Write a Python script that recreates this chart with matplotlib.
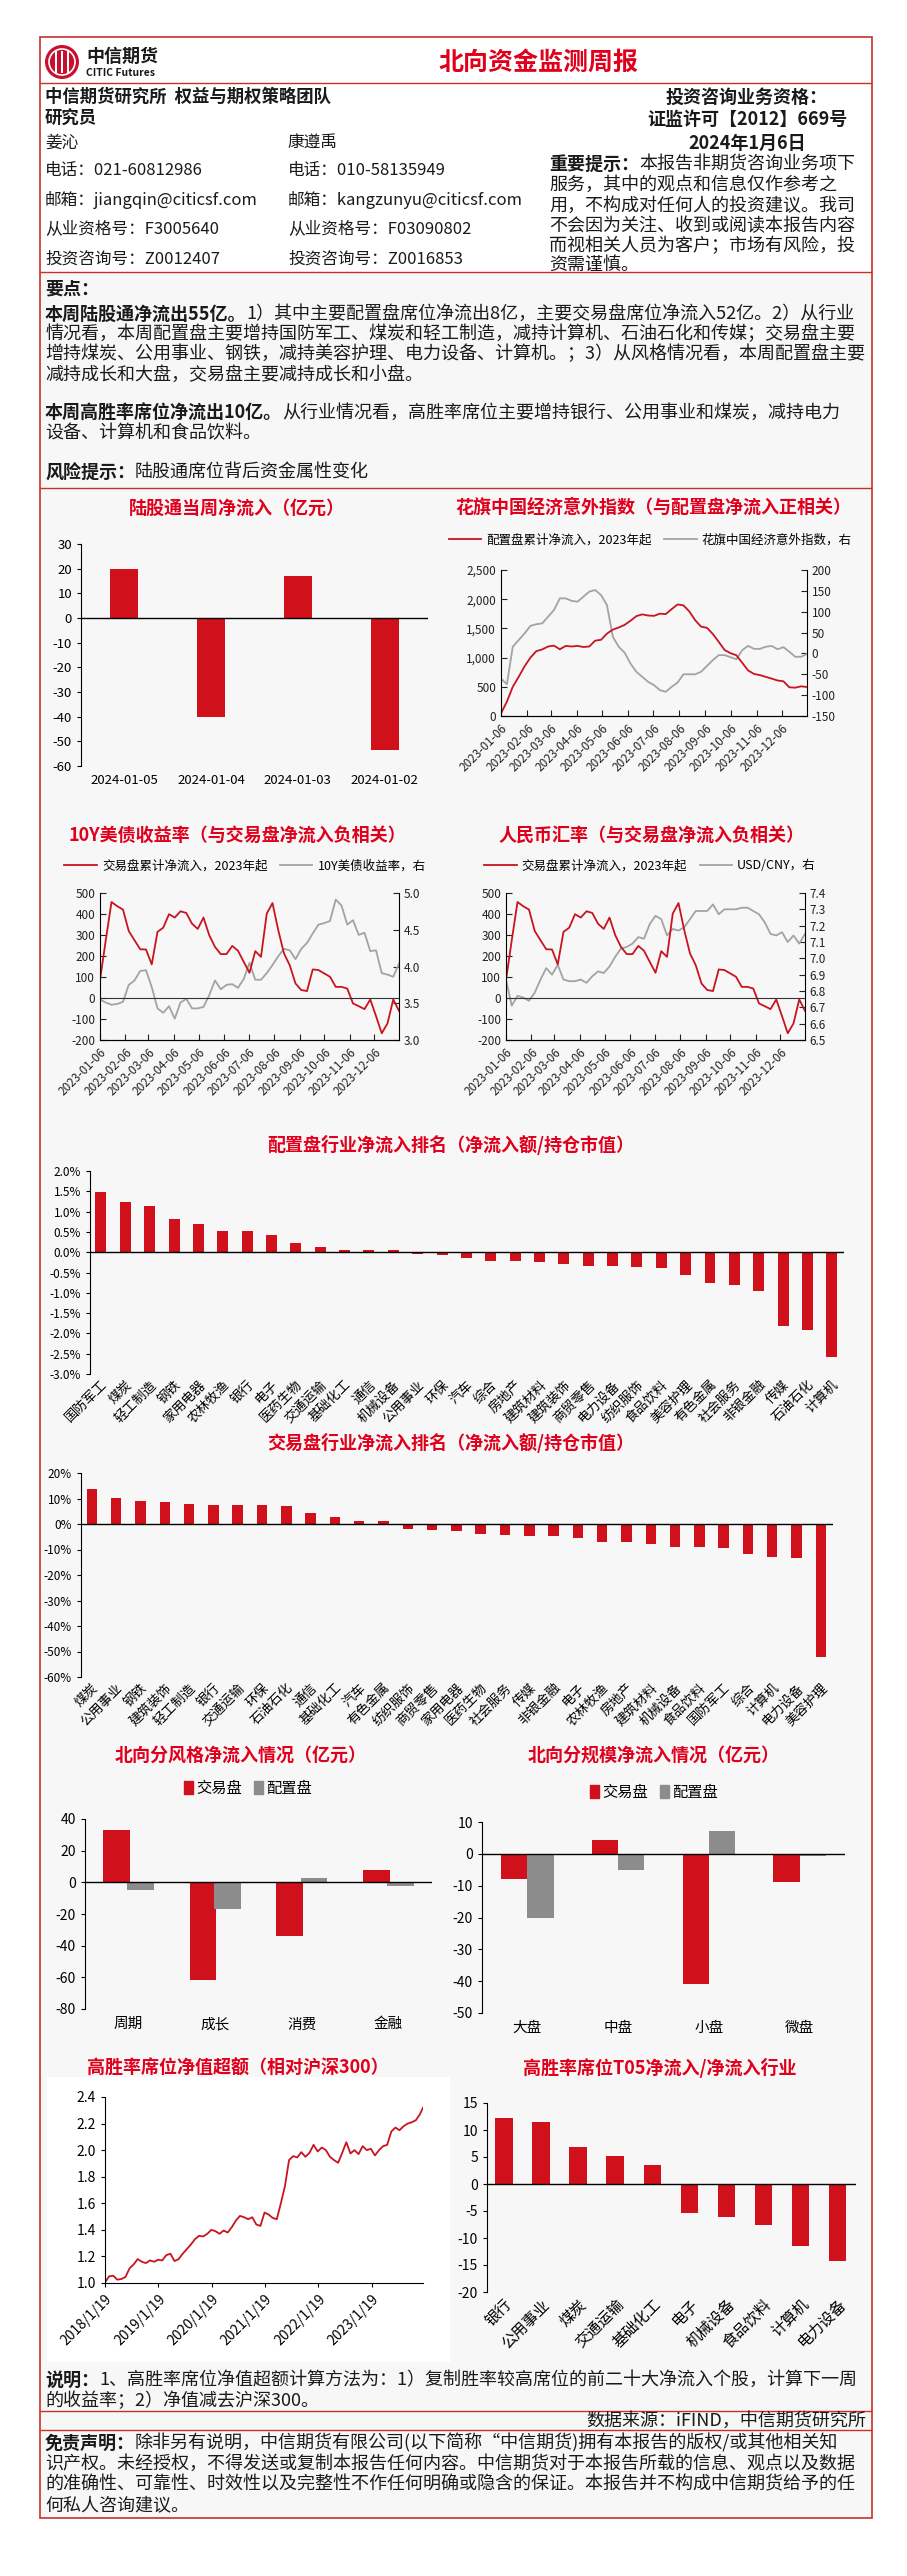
import numpy as np
import pandas as pd
import matplotlib
matplotlib.use('Agg')
import matplotlib.pyplot as plt
from matplotlib.patches import Rectangle, Circle, Patch
from matplotlib.lines import Line2D
from matplotlib.ticker import FuncFormatter, MultipleLocator

plt.rcParams['font.family'] = ['Noto Sans CJK SC', 'DejaVu Sans']
plt.rcParams['axes.unicode_minus'] = False

# ---- data ----
weekly_dates = ['2024-01-05', '2024-01-04', '2024-01-03', '2024-01-02']
weekly_flow = [20, -40, 17, -53.5]

week_start = '2023-01-06'  # weekly series, 53 points
peizhi_cum = [46, 245, 500, 670, 850, 1000, 1110, 1140, 1190, 1205,
              1142, 1200, 1190, 1200, 1182, 1190, 1290, 1305, 1410, 1480,
              1515, 1560, 1630, 1710, 1740, 1720, 1715, 1752, 1745, 1830,
              1910, 1895, 1790, 1640, 1530, 1510, 1404, 1270, 1130, 1075,
              1040, 910, 780, 720, 700, 670, 640, 608, 594, 491,
              485, 508, 497]
citi_surprise = [-60, -74, 16, 32, 48, 66, 70, 72, 88, 104,
                 132, 132, 126, 124, 136, 148, 152, 140, 116, 40,
                 16, 2, -24, -44, -56, -68, -76, -88, -92, -80,
                 -70, -50, -50, -50, -44, -30, -16, -4, -4, -9,
                 -14, 8, 18, 11, 11, 16, 18, 10, 15, 4,
                 -8, -8, -1]
jiaoyi_cum = [85, 275, 457, 437, 421, 319, 275, 232, 231, 160,
              315, 335, 399, 383, 413, 405, 354, 329, 383, 299,
              243, 209, 209, 248, 225, 172, 120, 223, 196, 402,
              452, 323, 212, 156, 69, 38, 33, 136, 133, 117,
              101, 53, 53, 45, -26, -39, -53, -7, -86, -168,
              -121, -7, -61]
us10y = [3.55, 3.51, 3.48, 3.49, 3.52, 3.75, 3.81, 3.94, 3.95, 3.72,
         3.43, 3.37, 3.46, 3.29, 3.51, 3.56, 3.43, 3.43, 3.45, 3.61,
         3.81, 3.69, 3.75, 3.76, 3.71, 3.83, 4.05, 3.82, 3.82, 3.91,
         4.02, 4.14, 4.24, 4.22, 4.10, 4.24, 4.32, 4.45, 4.57, 4.59,
         4.62, 4.91, 4.83, 4.57, 4.63, 4.43, 4.46, 4.21, 4.22, 3.91,
         3.89, 3.86, 4.04]
usdcny = [6.87, 6.71, 6.77, 6.76, 6.74, 6.79, 6.87, 6.94, 6.90, 6.96,
          6.87, 6.86, 6.86, 6.87, 6.85, 6.89, 6.92, 6.91, 6.95, 7.01,
          7.06, 7.07, 7.09, 7.13, 7.12, 7.21, 7.26, 7.24, 7.14, 7.18,
          7.17, 7.19, 7.24, 7.29, 7.29, 7.29, 7.33, 7.27, 7.30, 7.30,
          7.30, 7.31, 7.31, 7.29, 7.27, 7.22, 7.15, 7.14, 7.16, 7.10,
          7.14, 7.09, 7.15]

pz_ind = ['国防军工', '煤炭', '轻工制造', '钢铁', '家用电器', '农林牧渔', '银行', '电子',
          '医药生物', '交通运输', '基础化工', '通信', '机械设备', '公用事业', '环保', '汽车',
          '综合', '房地产', '建筑材料', '建筑装饰', '商贸零售', '电力设备', '纺织服饰',
          '食品饮料', '美容护理', '有色金属', '社会服务', '非银金融', '传媒', '石油石化', '计算机']
pz_val = [1.48, 1.23, 1.13, 0.82, 0.70, 0.53, 0.53, 0.43, 0.23, 0.12, 0.06, 0.05, 0.05,
          -0.04, -0.07, -0.14, -0.21, -0.21, -0.25, -0.29, -0.34, -0.34, -0.37, -0.39,
          -0.56, -0.76, -0.81, -0.95, -1.82, -1.92, -2.58]

jy_ind = ['煤炭', '公用事业', '钢铁', '建筑装饰', '轻工制造', '银行', '交通运输', '环保',
          '石油石化', '通信', '基础化工', '汽车', '有色金属', '纺织服饰', '商贸零售', '家用电器',
          '医药生物', '社会服务', '传媒', '非银金融', '电子', '农林牧渔', '房地产', '建筑材料',
          '机械设备', '食品饮料', '国防军工', '综合', '计算机', '电力设备', '美容护理']
jy_val = [13.8, 10.3, 9.2, 8.7, 8.0, 7.4, 7.4, 7.4, 7.1, 4.2, 2.6, 1.1, 1.1, -1.8, -2.5,
          -2.9, -3.8, -4.3, -4.7, -4.7, -5.6, -7.1, -7.1, -7.9, -9.2, -9.2, -9.5, -11.7,
          -13.0, -13.4, -52.2]

style_cats = ['周期', '成长', '消费', '金融']
style_jy = [33, -62, -34, 8]
style_pz = [-5, -17, 3, -2]

size_cats = ['大盘', '中盘', '小盘', '微盘']
size_jy = [-8, 4.3, -41, -8.9]
size_pz = [-20, -5.2, 7.1, -0.7]

nav_start = '2018-01-19'  # sampled every 28 days, plus last week
nav_last = '2024-01-05'
nav = [1.005, 1.05, 1.055, 1.025, 1.03, 1.045, 1.11, 1.14, 1.18, 1.16,
       1.15, 1.17, 1.16, 1.175, 1.17, 1.21, 1.22, 1.165, 1.18, 1.22,
       1.255, 1.29, 1.33, 1.355, 1.35, 1.37, 1.40, 1.39, 1.37, 1.395,
       1.38, 1.42, 1.47, 1.505, 1.495, 1.48, 1.495, 1.44, 1.43, 1.53,
       1.515, 1.49, 1.48, 1.60, 1.73, 1.925, 1.955, 1.945, 1.985, 1.95,
       1.98, 2.04, 1.99, 2.02, 2.0, 1.95, 1.925, 1.905, 1.98, 2.06,
       1.975, 2.0, 1.97, 2.03, 2.0, 2.01, 1.96, 2.0, 2.03, 2.04,
       2.14, 2.17, 2.15, 2.18, 2.20, 2.21, 2.225, 2.27, 2.32]

hs_ind = ['银行', '公用事业', '煤炭', '交通运输', '基础化工', '电子', '机械设备', '食品饮料', '计算机', '电力设备']
hs_val = [12.2, 11.4, 6.8, 5.1, 3.6, -5.3, -6.2, -7.5, -11.4, -14.2]

# ---- colours ----
BAR_RED = '#d0101b'
BAR_GRAY = '#8c8c8c'
LINE_RED = '#c8141e'
LINE_GRAY = '#a3a3a3'
TITLE_RED = '#e0001b'
FRAME = '#c9302c'
TXT = '#1a1a1a'

W, H = 907, 2576
fig = plt.figure(figsize=(W / 100, H / 100), dpi=100)
fig.patch.set_facecolor('white')

bg = fig.add_axes([0, 0, 1, 1])
bg.set_xlim(0, W)
bg.set_ylim(H, 0)
bg.axis('off')


def rect(l, t, r, b):
    return [l / W, 1 - b / H, (r - l) / W, (b - t) / H]


def mk(l, t, r, b):
    ax = fig.add_axes(rect(l, t, r, b))
    ax.set_facecolor('none')
    return ax


def put(x, y, s, size=13, bold=False, color=TXT, ha='left'):
    return bg.text(x, y, s, fontsize=size, fontweight='bold' if bold else 'normal',
                   color=color, ha=ha, va='center')


def put_mixed(x, y, head, rest, size=13):
    t = put(x, y, head, size=size, bold=True)
    bg.annotate(rest, xy=(1, 0.5), xycoords=t, ha='left', va='center',
                fontsize=size, color=TXT)


def title(x, y, s):
    put(x, y, s, size=13, bold=True, color=TITLE_RED, ha='center')


# ---- page frame & backgrounds ----
bg.add_patch(Rectangle((40, 272), 832, 2246, fc='#f7f7f7', ec='none'))
bg.add_patch(Rectangle((47, 2077), 403, 285, fc='white', ec='none'))
bg.add_patch(Rectangle((40, 37), 832, 2481, fc='none', ec=FRAME, lw=1.2))
bg.hlines([83, 272, 488, 2411, 2430], 40, 872, color=FRAME, lw=1)

# logo
bg.add_patch(Circle((62, 62), 17, fc='#c8102e', ec='none'))
bg.add_patch(Circle((62, 62), 13, fc='none', ec='white', lw=1.2))
for dx in (-6, 0, 6):
    bg.add_patch(Rectangle((62 + dx - 1.2, 51), 2.4, 22, fc='white', ec='none'))
put(86, 56, '中信期货', size=13, bold=True)
put(86, 73, 'CITIC Futures', size=7.5, bold=True)
put(538, 63, '北向资金监测周报', size=18, bold=True, color=TITLE_RED, ha='center')

# ---- analyst block ----
put(45, 97, '中信期货研究所  权益与期权策略团队', size=12.5, bold=True)
put(45, 119, '研究员', size=12.5, bold=True)
left_col = ['姜沁', '电话：021-60812986', '邮箱：jiangqin@citicsf.com',
            '从业资格号：F3005640', '投资咨询号：Z0012407']
right_col = ['康遵禹', '电话：010-58135949', '邮箱：kangzunyu@citicsf.com',
             '从业资格号：F03090802', '投资咨询号：Z0016853']
for yy, a, b in zip([143, 170, 200, 229, 259], left_col, right_col):
    put(45, yy, a, size=12)
    put(288, yy, b, size=12)

put(747, 97, '投资咨询业务资格：', size=13, bold=True, ha='center')
put(747, 119, '证监许可【2012】669号', size=13, bold=True, ha='center')
put(747, 143, '2024年1月6日', size=13, bold=True, ha='center')
put_mixed(549, 164, '重要提示：', '本报告非期货咨询业务项下')
notice = ['服务，其中的观点和信息仅作参考之', '用，不构成对任何人的投资建议。我司',
          '不会因为关注、收到或阅读本报告内容', '而视相关人员为客户；市场有风险，投', '资需谨慎。']
for yy, s in zip([185, 206, 226, 246, 265], notice):
    put(549, yy, s)

# ---- key points ----
put(45, 289, '要点：', bold=True)
put_mixed(45, 314, '本周陆股通净流出55亿。',
          '1）其中主要配置盘席位净流出8亿，主要交易盘席位净流入52亿。2）从行业')
p1 = ['情况看，本周配置盘主要增持国防军工、煤炭和轻工制造，减持计算机、石油石化和传媒；交易盘主要',
      '增持煤炭、公用事业、钢铁，减持美容护理、电力设备、计算机。；3）从风格情况看，本周配置盘主要',
      '减持成长和大盘，交易盘主要减持成长和小盘。']
for yy, s in zip([334, 354, 375], p1):
    put(45, yy, s)
put_mixed(45, 413, '本周高胜率席位净流出10亿。',
          '从行业情况看，高胜率席位主要增持银行、公用事业和煤炭，减持电力')
put(45, 433, '设备、计算机和食品饮料。')
put_mixed(45, 473, '风险提示：', '陆股通席位背后资金属性变化')


# ---- helpers for charts ----
def bar_axis(ax, cats, fs, rot=0):
    ax.spines[['top', 'right', 'bottom']].set_visible(False)
    ax.axhline(0, color='black', lw=1, zorder=3)
    if rot:
        ax.set_xticks(range(len(cats)), cats, rotation=rot, ha='right',
                      rotation_mode='anchor')
    else:
        ax.set_xticks(range(len(cats)), cats)
    ax.tick_params(axis='x', length=0, labelsize=fs, pad=6)
    ax.tick_params(axis='y', labelsize=fs, length=3)


week_dates = pd.date_range(week_start, periods=53, freq='7D')
month_ticks = pd.date_range(week_start, periods=12, freq=pd.DateOffset(months=1))


def line_chart(box, left, right, lyl, lstep, ryl, rstep, lfmt, rfmt, labels, leg_xy, zero):
    ax = mk(*box)
    axr = ax.twinx()
    axr.plot(week_dates, right, color=LINE_GRAY, lw=1.3)
    ax.plot(week_dates, left, color=LINE_RED, lw=1.3)
    ax.set_zorder(axr.get_zorder() + 1)
    ax.patch.set_visible(False)
    if zero:
        ax.axhline(0, color='#333333', lw=0.8)
    ax.set_xlim(week_dates[0], week_dates[-1])
    ax.set_ylim(*lyl)
    axr.set_ylim(*ryl)
    ax.yaxis.set_major_locator(MultipleLocator(lstep))
    axr.yaxis.set_major_locator(MultipleLocator(rstep))
    ax.yaxis.set_major_formatter(FuncFormatter(lambda v, p: lfmt.format(v)))
    axr.yaxis.set_major_formatter(FuncFormatter(lambda v, p: rfmt.format(v)))
    ax.set_xticks(month_ticks, [d.strftime('%Y-%m-%d') for d in month_ticks],
                  rotation=45, ha='right', rotation_mode='anchor')
    for a in (ax, axr):
        a.spines['top'].set_visible(False)
        a.tick_params(labelsize=8.5, direction='in', length=4, colors='#222222')
    ax.spines['right'].set_visible(False)
    axr.spines['left'].set_visible(False)
    ax.tick_params(axis='x', pad=4)
    handles = [Line2D([], [], color=LINE_RED, lw=1.3), Line2D([], [], color=LINE_GRAY, lw=1.3)]
    ax.legend(handles, labels, loc='center', bbox_to_anchor=(leg_xy[0] / W, 1 - leg_xy[1] / H),
              bbox_transform=fig.transFigure, ncol=2, frameon=False, fontsize=9,
              handlelength=2.6, columnspacing=1.0, handletextpad=0.4)
    return ax


# ---- row 1 ----
title(237, 508, '陆股通当周净流入（亿元）')
ax1 = mk(81, 544, 428, 766)
ax1.bar(range(len(weekly_flow)), weekly_flow, width=0.32, color=BAR_RED)
ax1.set_xlim(-0.5, 3.5)
ax1.set_ylim(-60, 30)
ax1.yaxis.set_major_locator(MultipleLocator(10))
bar_axis(ax1, weekly_dates, 9.5)

title(653, 507, '花旗中国经济意外指数（与配置盘净流入正相关）')
line_chart((501, 570, 807, 716), peizhi_cum, citi_surprise, (0, 2500), 500, (-150, 200), 50,
           '{:,.0f}', '{:.0f}', ['配置盘累计净流入，2023年起', '花旗中国经济意外指数，右'],
           (650, 540), False)

# ---- row 2 ----
title(237, 835, '10Y美债收益率（与交易盘净流入负相关）')
line_chart((100, 893, 399, 1040), jiaoyi_cum, us10y, (-200, 500), 100, (3.0, 5.0), 0.5,
           '{:.0f}', '{:.1f}', ['交易盘累计净流入，2023年起', '10Y美债收益率，右'],
           (245, 866), True)
title(652, 835, '人民币汇率（与交易盘净流入负相关）')
line_chart((506, 893, 805, 1040), jiaoyi_cum, usdcny, (-200, 500), 100, (6.5, 7.4), 0.1,
           '{:.0f}', '{:.1f}', ['交易盘累计净流入，2023年起', 'USD/CNY，右'],
           (650, 866), True)

# ---- industry rankings ----
title(451, 1145, '配置盘行业净流入排名（净流入额/持仓市值）')
ax5 = mk(90, 1171, 844, 1374)
ax5.bar(range(len(pz_val)), pz_val, width=0.45, color=BAR_RED)
ax5.set_xlim(-0.45, len(pz_val) - 0.5)
ax5.set_ylim(-3, 2)
ax5.yaxis.set_major_locator(MultipleLocator(0.5))
ax5.yaxis.set_major_formatter(FuncFormatter(lambda v, p: '{:.1f}%'.format(v)))
bar_axis(ax5, pz_ind, 9.5, rot=45)
ax5.tick_params(axis='y', labelsize=8.5)
ax5.tick_params(axis='x', pad=3)

title(451, 1443, '交易盘行业净流入排名（净流入额/持仓市值）')
ax6 = mk(81, 1473, 833, 1677)
ax6.bar(range(len(jy_val)), jy_val, width=0.43, color=BAR_RED)
ax6.set_xlim(-0.45, len(jy_val) - 0.5)
ax6.set_ylim(-60, 20)
ax6.yaxis.set_major_locator(MultipleLocator(10))
ax6.yaxis.set_major_formatter(FuncFormatter(lambda v, p: '{:.0f}%'.format(v)))
bar_axis(ax6, jy_ind, 9.5, rot=45)
ax6.tick_params(axis='y', labelsize=8.5)
ax6.tick_params(axis='x', pad=3)

# ---- style / size ----
group_handles = [Patch(color=BAR_RED), Patch(color=BAR_GRAY)]


def group_bars(box, cats, jy, pz, ylim, step, off, wid, leg_xy):
    ax = mk(*box)
    x = np.arange(len(cats))
    ax.bar(x - off, jy, width=wid, color=BAR_RED)
    ax.bar(x + off, pz, width=wid, color=BAR_GRAY)
    ax.set_xlim(-0.5, len(cats) - 0.5)
    ax.set_ylim(*ylim)
    ax.yaxis.set_major_locator(MultipleLocator(step))
    bar_axis(ax, cats, 10.5)
    ax.tick_params(axis='y', labelsize=10)
    ax.legend(group_handles, ['交易盘', '配置盘'], loc='center',
              bbox_to_anchor=(leg_xy[0] / W, 1 - leg_xy[1] / H), bbox_transform=fig.transFigure,
              ncol=2, frameon=False, fontsize=11, handlelength=0.6, handleheight=0.9,
              handletextpad=0.2, columnspacing=0.8)
    return ax


title(241, 1755, '北向分风格净流入情况（亿元）')
group_bars((85, 1819, 432, 2009), style_cats, style_jy, style_pz, (-80, 40), 20, 0.14, 0.31, (248, 1788))
title(654, 1755, '北向分规模净流入情况（亿元）')
group_bars((482, 1822, 845, 2013), size_cats, size_jy, size_pz, (-50, 10), 10, 0.145, 0.29, (654, 1792))

# ---- high win-rate seats ----
title(238, 2068, '高胜率席位净值超额（相对沪深300）')
nav_dates = pd.date_range(nav_start, periods=len(nav) - 1, freq='28D').append(pd.DatetimeIndex([nav_last]))
ax9 = mk(105, 2097, 423, 2283)
ax9.plot(nav_dates, nav, color=LINE_RED, lw=1.3)
ax9.set_xlim(nav_dates[0], nav_dates[-1])
ax9.set_ylim(1.0, 2.4)
ax9.yaxis.set_major_locator(MultipleLocator(0.2))
ax9.yaxis.set_major_formatter(FuncFormatter(lambda v, p: '{:.1f}'.format(v)))
year_ticks = pd.date_range(nav_start, periods=6, freq=pd.DateOffset(years=1))
ax9.set_xticks(year_ticks, ['{}/{}/{}'.format(d.year, d.month, d.day) for d in year_ticks],
               rotation=45, ha='right', rotation_mode='anchor')
ax9.spines[['top', 'right']].set_visible(False)
ax9.tick_params(labelsize=10, length=3)

title(660, 2068, '高胜率席位T05净流入/净流入行业')
ax10 = mk(487, 2103, 856, 2292)
ax10.bar(range(len(hs_val)), hs_val, width=0.47, color=BAR_RED)
ax10.set_xlim(-0.46, len(hs_val) - 0.5)
ax10.set_ylim(-20, 15)
ax10.yaxis.set_major_locator(MultipleLocator(5))
bar_axis(ax10, hs_ind, 11, rot=45)
ax10.tick_params(axis='y', labelsize=10)
ax10.tick_params(axis='x', pad=3)

# ---- notes & disclaimer ----
put_mixed(45, 2380, '说明：', '1、高胜率席位净值超额计算方法为：1）复制胜率较高席位的前二十大净流入个股，计算下一周')
put(45, 2401, '的收益率；2）净值减去沪深300。')
put(866, 2421, '数据来源：iFIND，中信期货研究所', ha='right')
put_mixed(45, 2443, '免责声明：', '除非另有说明，中信期货有限公司(以下简称“中信期货)拥有本报告的版权/或其他相关知')
disc = ['识产权。未经授权，不得发送或复制本报告任何内容。中信期货对于本报告所载的信息、观点以及数据',
        '的准确性、可靠性、时效性以及完整性不作任何明确或隐含的保证。本报告并不构成中信期货给予的任',
        '何私人咨询建议。']
for yy, s in zip([2464, 2484, 2505], disc):
    put(45, yy, s)

fig.savefig('out.png', dpi=100, facecolor='white')
